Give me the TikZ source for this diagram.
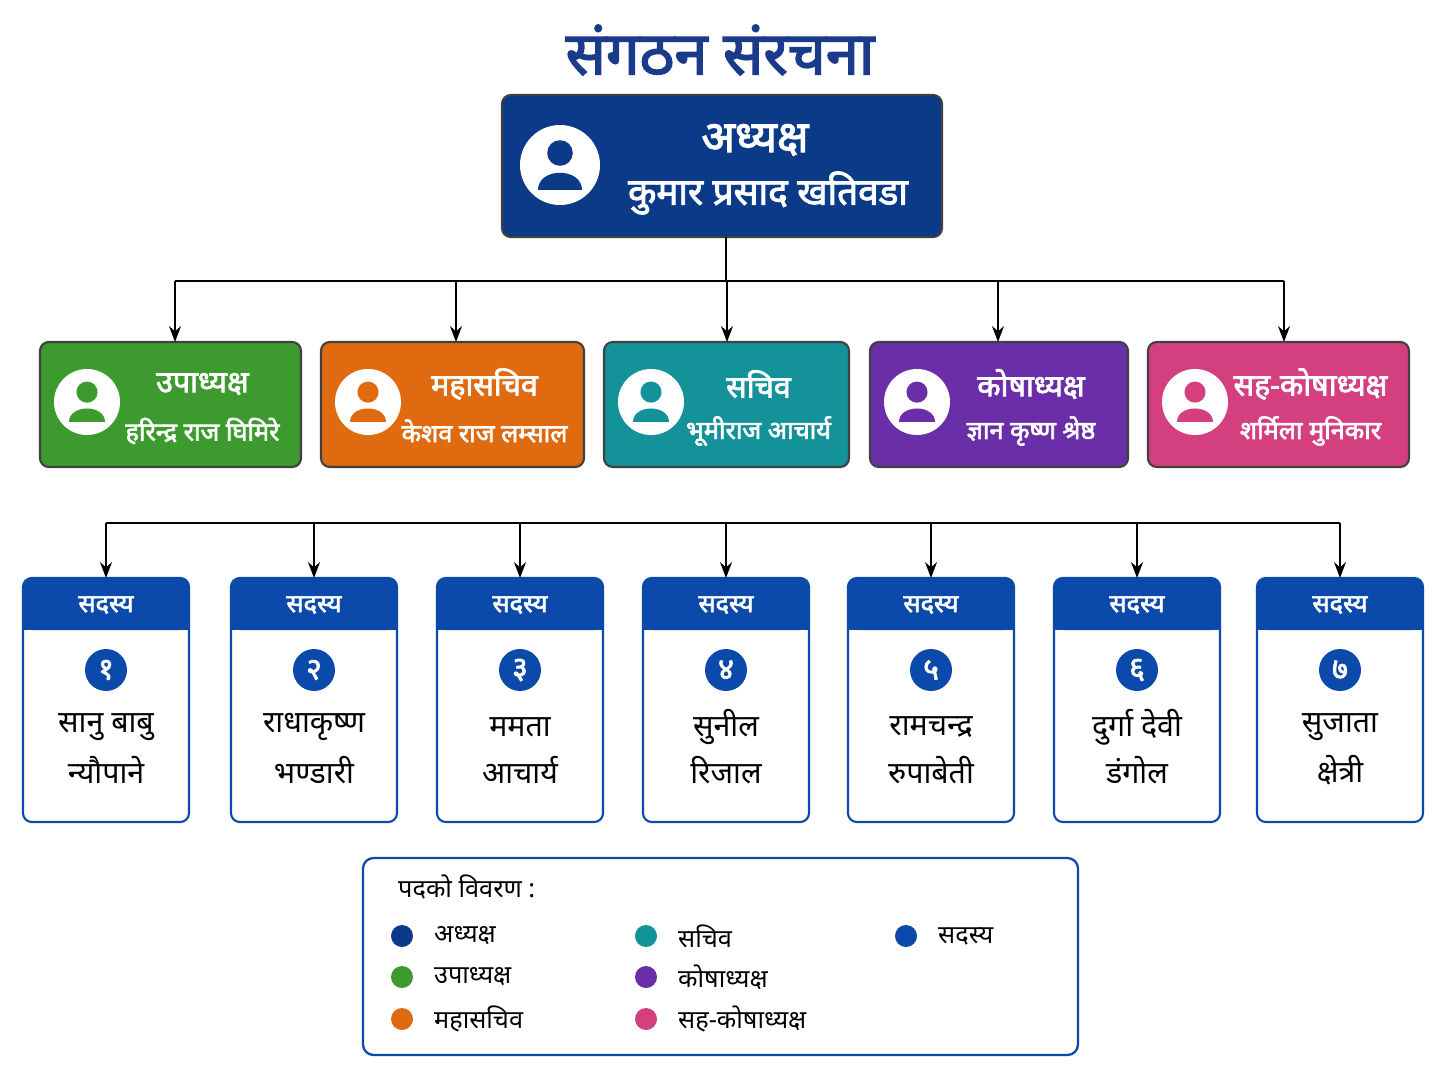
\documentclass[tikz,border=0pt]{standalone}
\usepackage{fontspec}
\setmainfont{Noto Sans}[Script=Devanagari,BoldFont={Noto Sans},BoldFeatures={FakeBold=2.5}]
\usetikzlibrary{arrows.meta}
\definecolor{navy}{HTML}{0A3A88}
\definecolor{ttl}{HTML}{1A3A8A}
\definecolor{grn}{HTML}{3D9A2E}
\definecolor{org}{HTML}{E06A10}
\definecolor{tea}{HTML}{14929A}
\definecolor{pur}{HTML}{6A2FA8}
\definecolor{pnk}{HTML}{D4407F}
\definecolor{mem}{HTML}{0B4AAA}
\tikzset{
  post/.style={draw=black!75,line width=1.2pt,rounded corners=5pt},
  head/.style={text=white,font=\bfseries\LARGE},
  sub/.style={text=white,font=\Large\bfseries},
  conn/.style={line width=1.3pt,-{Stealth[length=9pt]}},
  memtxt/.style={font=\LARGE,align=center},
  num/.style={circle,fill=mem,text=white,font=\bfseries\LARGE,minimum size=42*0.02cm,inner sep=0pt},
  dot/.style={circle,minimum size=22*0.02cm,inner sep=0pt}
}
\newcommand{\personicon}[4]{% x, y, radius, colour
  \fill[white] (#1,#2) circle ({#3*0.02cm});
  \fill[#4] (#1,#2-0.3*#3) circle ({0.32*#3*0.02cm});
  \fill[#4] (#1-0.55*#3,#2+0.62*#3) .. controls (#1-0.55*#3,#2+0.05*#3) and (#1+0.55*#3,#2+0.05*#3) .. (#1+0.55*#3,#2+0.62*#3) -- cycle;
}
\begin{document}
\begin{tikzpicture}[x=0.02cm,y=-0.02cm]
\useasboundingbox[fill=white] (0,0) rectangle (1448,1086);

\node[text=ttl,font=\bfseries\fontsize{34}{40}\selectfont] (title) at (720,50) {संगठन संरचना};

% president
\draw[post,fill=navy] (502,95) rectangle (942,237);
\coordinate (top) at (726,237);
\personicon{560}{165}{40}{navy}
\node[head,font=\bfseries\fontsize{25}{28}\selectfont] (pres) at (755,140) {अध्यक्ष};
\node[head,font=\bfseries\fontsize{21}{24}\selectfont] (presname) at (768,193) {कुमार प्रसाद खतिवडा};

% officers
\foreach \xa/\xb/\col/\ttl/\nm/\nx [count=\i] in {
  40/301/grn/उपाध्यक्ष/हरिन्द्र राज घिमिरे/175,
  321/584/org/महासचिव/केशव राज लम्साल/456,
  604/849/tea/सचिव/भूमीराज आचार्य/727,
  870/1128/pur/कोषाध्यक्ष/ज्ञान कृष्ण श्रेष्ठ/998,
  1148/1409/pnk/सह-कोषाध्यक्ष/शर्मिला मुनिकार/1284}{
  \draw[post,fill=\col] (\xa,342) rectangle (\xb,467);
  \coordinate (o\i) at (\nx,342);
  \personicon{\xa+47}{402}{33}{\col}
  \node[head] (ot\i) at ({(\xa+\xb)/2+32},384) {\ttl};
  \node[sub] (on\i) at ({(\xa+\xb)/2+32},431) {\nm};
}
\draw[line width=1.3pt] (top) -- (726,281);
\draw[line width=1.3pt] (175,281) -- (1284,281);
\foreach \i/\nx in {1/175,2/456,3/727,4/998,5/1284}
  \draw[conn] (\nx,281) -- (o\i);

% members
\draw[line width=1.3pt] (106,523) -- (1340,523);
\foreach \cx/\n/\la/\lb [count=\i] in {
  106/१/सानु बाबु/न्यौपाने,
  314/२/राधाकृष्ण/भण्डारी,
  520/३/ममता/आचार्य,
  726/४/सुनील/रिजाल,
  931/५/रामचन्द्र/रुपाबेती,
  1137/६/दुर्गा देवी/डंगोल,
  1340/७/सुजाता/क्षेत्री}{
  \draw[draw=mem,line width=1.2pt,fill=white,rounded corners=5pt] (\cx-83,578) rectangle (\cx+83,822);
  \fill[mem,rounded corners=5pt] (\cx-83,578) rectangle (\cx+83,630);
  \fill[mem] (\cx-83,610) rectangle (\cx+83,630);
  \coordinate (m\i) at (\cx,578);
  \node[head,font=\bfseries\Large] (mh\i) at (\cx,605) {सदस्य};
  \node[num] (mn\i) at (\cx,670) {\n};
  \node[memtxt] (ma\i) at (\cx,727) {\la};
  \node[memtxt] (mb\i) at (\cx,770) {\lb};
  \draw[conn] (\cx,523) -- (m\i);
}

% legend
\draw[draw=mem,line width=1.3pt,rounded corners=6pt] (363,858) rectangle (1078,1055);
\node[anchor=west,font=\Large] (legtitle) at (392,887) {पदको विवरण :};
\foreach \dx/\dy/\col/\txt in {
  402/936/navy/अध्यक्ष, 402/977/grn/उपाध्यक्ष, 402/1019/org/महासचिव,
  646/936/tea/सचिव, 646/977/pur/कोषाध्यक्ष, 646/1019/pnk/सह-कोषाध्यक्ष,
  906/936/mem/सदस्य}{
  \node[dot,fill=\col] (d) at (\dx,\dy) {};
  \node[anchor=west,font=\Large] at (\dx+26,\dy) {\txt};
}
\end{tikzpicture}
\end{document}
